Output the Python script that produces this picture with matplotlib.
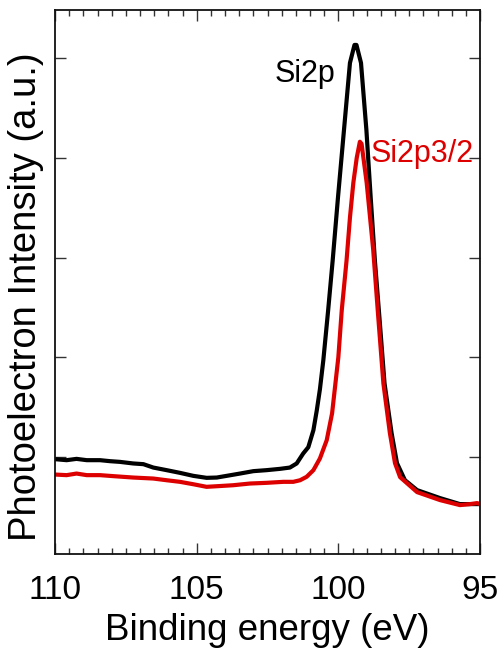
import matplotlib
matplotlib.use("Agg")
import matplotlib.pyplot as plt
from matplotlib.ticker import MultipleLocator

plt.rcParams['font.family'] = ['Liberation Sans', 'DejaVu Sans']

# Binding energy (eV) and intensity (a.u.)
si2p_x = [110.00, 109.59, 109.24, 108.88, 108.41, 108.06, 107.71, 107.24, 106.88,
          106.53, 106.06, 105.59, 105.12, 104.65, 104.29, 103.94, 103.47, 103.00,
          102.53, 102.06, 101.71, 101.47, 101.24, 101.06, 100.88, 100.76, 100.65,
          100.53, 100.36, 100.20, 100.01, 99.80, 99.59, 99.43, 99.36, 99.20, 99.01,
          98.86, 98.71, 98.55, 98.37, 98.12, 97.93, 97.65, 97.22, 96.41, 95.71, 95.00]
si2p_y = [0.980, 0.970, 0.983, 0.970, 0.970, 0.960, 0.953, 0.937, 0.930,
          0.896, 0.870, 0.843, 0.813, 0.793, 0.796, 0.813, 0.836, 0.860,
          0.870, 0.883, 0.896, 0.937, 1.037, 1.10, 1.27, 1.47, 1.68,
          1.97, 2.47, 2.97, 3.61, 4.28, 4.95, 5.13, 5.13, 4.95, 4.28,
          3.61, 2.97, 2.40, 1.74, 1.24, 0.94, 0.77, 0.67, 0.59, 0.53, 0.53]

si2p32_x = [110.00, 109.59, 109.24, 108.88, 108.41, 107.94, 107.24, 106.53, 106.06,
            105.59, 105.12, 104.65, 104.29, 103.71, 103.12, 102.53, 101.94, 101.59,
            101.35, 101.12, 100.88, 100.65, 100.41, 100.22, 100.00, 99.88, 99.71,
            99.59, 99.47, 99.35, 99.24, 99.18, 99.00, 98.77, 98.59, 98.41, 98.18,
            98.00, 97.82, 97.22, 96.41, 95.71, 95.35, 95.10, 95.00]
si2p32_y = [0.826, 0.820, 0.836, 0.820, 0.820, 0.810, 0.796, 0.786, 0.769,
            0.753, 0.729, 0.703, 0.709, 0.719, 0.736, 0.743, 0.753, 0.753,
            0.769, 0.803, 0.870, 0.987, 1.170, 1.44, 2.00, 2.47, 2.97,
            3.40, 3.75, 4.00, 4.16, 4.14, 3.75, 3.08, 2.40, 1.74, 1.24,
            0.94, 0.80, 0.65, 0.57, 0.52, 0.53, 0.54, 0.53]

x_ticks = [110, 105, 100, 95]
x_ticklabels = ["110", "105", "100", "95"]
y_ticks = [1, 2, 3, 4, 5]

black = "#000000"
red = "#dd0000"

fig = plt.figure(figsize=(5.02, 6.53), dpi=100)
ax = fig.add_axes([55/502, 1-554/653, (480-55)/502, (554-10)/653])

ax.plot(si2p_x, si2p_y, color=black, lw=3.0)
ax.plot(si2p32_x, si2p32_y, color=red, lw=3.0)

ax.set_xlim(110, 95)
ax.set_ylim(0.03, 5.48)

ax.set_xticks(x_ticks)
ax.set_xticklabels(x_ticklabels, fontsize=24)
ax.xaxis.set_minor_locator(MultipleLocator(0.5))
ax.set_yticks(y_ticks)
ax.set_yticklabels([])

ax.tick_params(axis='x', which='major', direction='in', length=8, width=1.0,
               top=True, bottom=True, pad=15, color='#333333')
ax.tick_params(axis='x', which='minor', direction='in', length=4, width=1.0,
               top=True, bottom=True, color='#333333')
ax.tick_params(axis='y', which='major', direction='in', length=8, width=1.0,
               left=True, right=True, color='#333333')

for s in ax.spines.values():
    s.set_linewidth(1.3)
    s.set_color('#111111')

ax.set_xlabel("Binding energy (eV)", fontsize=26.5)
ax.set_ylabel("Photoelectron Intensity (a.u.)", fontsize=27.5)
ax.xaxis.set_label_coords(0.5, -0.1085)
ax.yaxis.set_label_coords(-0.026, 0.473)

ax.text(102.24, 4.76, "Si2p", color=black, fontsize=22, ha='left', va='baseline')
ax.text(98.85, 3.96, "Si2p3/2", color=red, fontsize=22, ha='left', va='baseline')

fig.savefig("out.png", dpi=100)
